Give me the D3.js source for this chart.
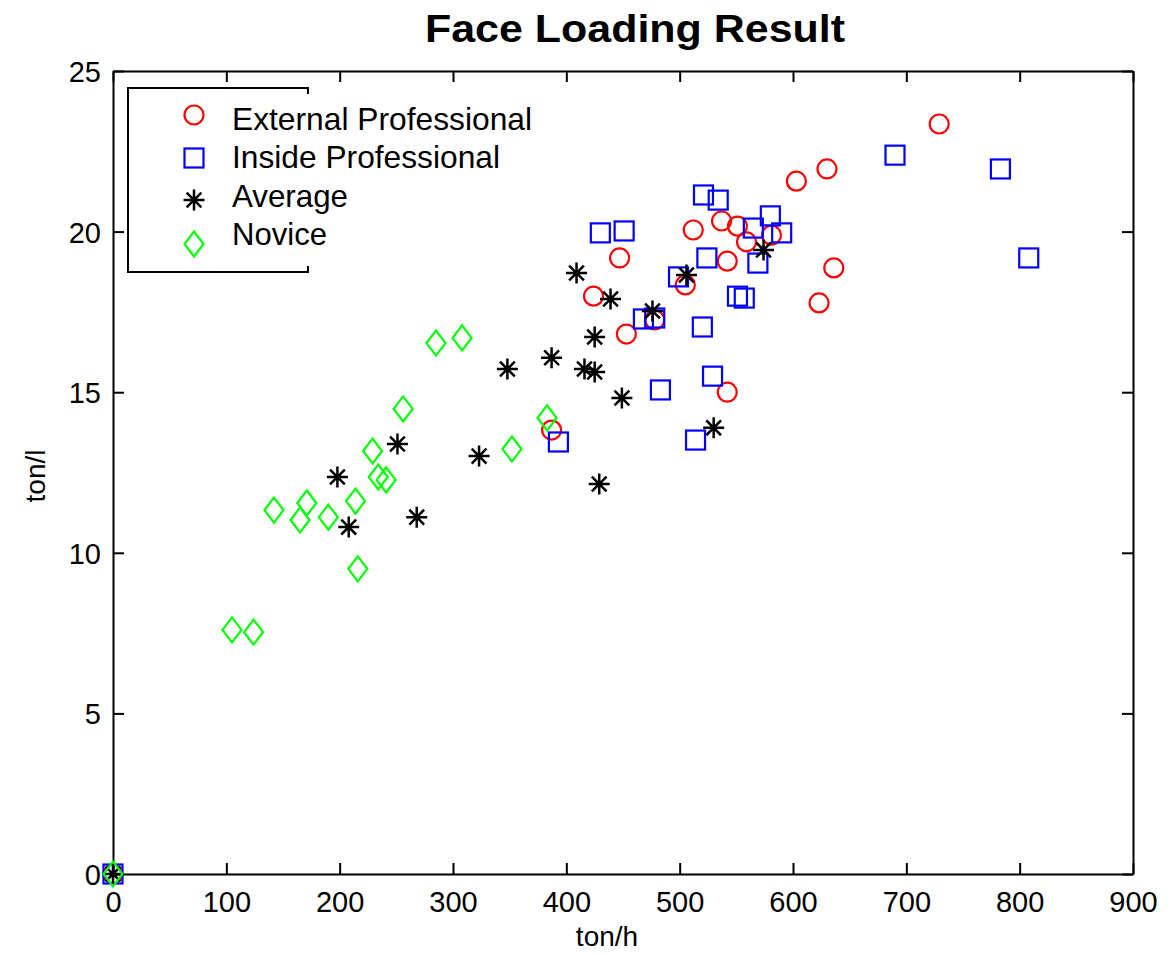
<!DOCTYPE html>
<html>
<head>
<meta charset="utf-8">
<script src="https://cdn.jsdelivr.net/npm/d3@7"></script>
<style>
  body { margin: 0; background: #fff; }
  svg text { font-family: "Liberation Sans", Arial, Helvetica, sans-serif; }
</style>
</head>
<body>
<div id="chart"></div>
<script>
// ===== DATA (ton/h, ton/l) =====
const extX = [0, 729, 630, 603, 512, 537, 551, 559, 581, 447, 542, 636, 424, 505, 478, 453, 623, 542, 387];
const extY = [0, 23.35, 21.95, 21.57, 20.05, 20.33, 20.17, 19.68, 19.89, 19.18, 19.08, 18.87, 17.99, 18.34, 17.25, 16.81, 17.78, 15.0, 13.82];

const insX = [0, 690, 783, 808, 521, 534, 430, 451, 580, 565, 590, 524, 569, 499, 551, 557, 468, 478, 520, 483, 529, 514, 393];
const insY = [0, 22.38, 21.95, 19.18, 21.14, 20.98, 19.96, 20.02, 20.49, 20.11, 19.96, 19.18, 19.02, 18.59, 17.99, 17.93, 17.28, 17.31, 17.03, 15.07, 15.5, 13.51, 13.45];

const avgX = [0, 409, 439, 506, 574, 476, 425, 387, 348, 416, 425, 449, 530, 429, 251, 323, 198, 268, 208];
const avgY = [0, 18.71, 17.9, 18.65, 19.43, 17.53, 16.72, 16.07, 15.72, 15.72, 15.63, 14.82, 13.89, 12.14, 13.39, 13.01, 12.36, 11.11, 10.8];

const novX = [0, 285, 308, 256, 383, 352, 229, 234, 241, 214, 171, 142, 190, 165, 216, 105, 124];
const novY = [0, 16.53, 16.69, 14.48, 14.2, 13.23, 13.17, 12.36, 12.27, 11.61, 11.55, 11.33, 11.11, 11.02, 9.5, 7.6, 7.53];

const xTicks = [0, 100, 200, 300, 400, 500, 600, 700, 800, 900];
const yTicks = [0, 5, 10, 15, 20, 25];

const seriesNames = ["External Professional", "Inside Professional", "Average", "Novice"];
const seriesColors = ["#ff0000", "#0000ff", "#000000", "#00ff00"];
const seriesShapes = ["circle", "square", "star", "diamond"];

// ===== LAYOUT =====
const width = 1175, height = 955;
const margin = { left: 113, right: 42, top: 71, bottom: 81 };

const svg = d3.select("#chart").append("svg")
  .attr("width", width)
  .attr("height", height);

const x = d3.scaleLinear().domain([0, 900]).range([margin.left, width - margin.right]);
const y = d3.scaleLinear().domain([0, 25]).range([height - margin.bottom, margin.top]);

const tickLen = 11;
const tickFont = 29;

// ===== AXES (box with inward ticks) =====
const bottomAxis = svg.append("g")
  .attr("transform", `translate(0,${y(0)})`)
  .call(d3.axisBottom(x).tickValues(xTicks).tickSizeInner(-tickLen).tickSizeOuter(0).tickPadding(17));
const topAxis = svg.append("g")
  .attr("transform", `translate(0,${y(25)})`)
  .call(d3.axisTop(x).tickValues(xTicks).tickSizeInner(-tickLen).tickSizeOuter(0).tickFormat(""));
const leftAxis = svg.append("g")
  .attr("transform", `translate(${x(0)},0)`)
  .call(d3.axisLeft(y).tickValues(yTicks).tickSizeInner(-tickLen).tickSizeOuter(0).tickPadding(12));
const rightAxis = svg.append("g")
  .attr("transform", `translate(${x(900)},0)`)
  .call(d3.axisRight(y).tickValues(yTicks).tickSizeInner(-tickLen).tickSizeOuter(0).tickFormat(""));

[bottomAxis, topAxis, leftAxis, rightAxis].forEach(g => {
  g.select(".domain").attr("stroke", "#000").attr("stroke-width", 2);
  g.selectAll(".tick line").attr("stroke", "#000").attr("stroke-width", 2);
  g.selectAll(".tick text")
    .attr("fill", "#000")
    .style("font-size", tickFont + "px")
    .style("font-family", "'Liberation Sans', Arial, sans-serif");
});
leftAxis.selectAll(".tick text").attr("dy", "0.36em");

// ===== TITLE & LABELS =====
svg.append("text")
  .attr("x", 635)
  .attr("y", 42)
  .attr("text-anchor", "middle")
  .attr("textLength", 420)
  .attr("lengthAdjust", "spacingAndGlyphs")
  .style("font-size", "38px")
  .style("font-weight", "bold")
  .text("Face Loading Result");

svg.append("text")
  .attr("x", 607)
  .attr("y", 946)
  .attr("text-anchor", "middle")
  .style("font-size", "28px")
  .text("ton/h");

svg.append("text")
  .attr("transform", `translate(45,476) rotate(-90)`)
  .attr("text-anchor", "middle")
  .style("font-size", "28px")
  .text("ton/l");

// ===== MARKERS =====
function drawMarker(g, shape, color) {
  const sw = 2.2;
  if (shape === "circle") {
    g.append("circle").attr("r", 9.5).attr("fill", "none").attr("stroke", color).attr("stroke-width", sw);
  } else if (shape === "square") {
    g.append("rect").attr("x", -9.5).attr("y", -9.5).attr("width", 19).attr("height", 19)
      .attr("fill", "none").attr("stroke", color).attr("stroke-width", sw);
  } else if (shape === "diamond") {
    g.append("path").attr("d", "M0,-12.5L9.5,0L0,12.5L-9.5,0Z")
      .attr("fill", "none").attr("stroke", color).attr("stroke-width", sw);
  } else if (shape === "star") {
    const r = 10.5, d = 7.4;
    g.append("path")
      .attr("d", `M${-r},0L${r},0M0,${-r}L0,${r}M${-d},${-d}L${d},${d}M${-d},${d}L${d},${-d}`)
      .attr("fill", "none").attr("stroke", color).attr("stroke-width", 2.5);
  }
}

const allSeries = [
  [extX, extY], [insX, insY], [avgX, avgY], [novX, novY]
];

allSeries.forEach(([xs, ys], i) => {
  const g = svg.append("g").attr("class", "series-" + i);
  xs.forEach((xv, j) => {
    const m = g.append("g").attr("transform", `translate(${x(xv)},${y(ys[j])})`);
    drawMarker(m, seriesShapes[i], seriesColors[i]);
  });
});

// ===== LEGEND =====
const lg = { left: 128, top: 88, right: 308, bottom: 272 };
const legend = svg.append("g").attr("class", "legend");
legend.append("path")
  .attr("d", `M${lg.right},${lg.top + 6}L${lg.right},${lg.top}L${lg.left},${lg.top}L${lg.left},${lg.bottom}L${lg.right},${lg.bottom}L${lg.right},${lg.bottom - 6}`)
  .attr("fill", "none").attr("stroke", "#000").attr("stroke-width", 2);

const markerRows = [115, 158, 200, 244];
const textBaselines = [130, 168, 207, 245];
const textWidths = [300, 268, 116, 95];
seriesNames.forEach((name, i) => {
  const m = legend.append("g").attr("transform", `translate(194,${markerRows[i]})`);
  drawMarker(m, seriesShapes[i], seriesColors[i]);
  legend.append("text")
    .attr("x", 232)
    .attr("y", textBaselines[i])
    .attr("textLength", textWidths[i])
    .attr("lengthAdjust", "spacingAndGlyphs")
    .style("font-size", "30.5px")
    .text(name);
});
</script>
</body>
</html>
